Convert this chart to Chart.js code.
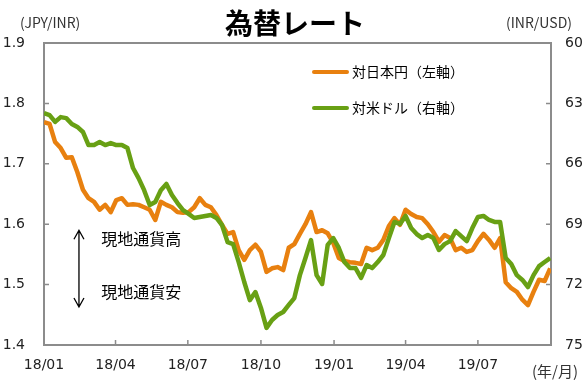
<!DOCTYPE html>
<html>
<head>
<meta charset="utf-8">
<script src="https://cdn.jsdelivr.net/npm/chart.js@4/dist/chart.umd.min.js"></script>
<style>
  html, body { margin: 0; padding: 0; background: #fff; }
  #wrap { width: 586px; height: 382px; position: relative; }
</style>
</head>
<body>
<div id="wrap"><canvas id="fx"></canvas></div>
<script>
(function () {
  "use strict";

  // 週次（2018/01/01 起点の経過日数）
  var days = [];
  for (var d = 0; d <= 637; d += 7) days.push(d);

  var monthTicks = [0, 90, 181, 273, 365, 455, 546];
  var monthLabels = ["18/01", "18/04", "18/07", "18/10", "19/01", "19/04", "19/07"];

  // 対日本円（JPY/INR, 左軸）
  var jpyInr = [1.769, 1.766, 1.736, 1.726, 1.710, 1.711, 1.686, 1.657, 1.643, 1.637,
    1.624, 1.632, 1.620, 1.640, 1.643, 1.632, 1.633, 1.632, 1.628, 1.624,
    1.607, 1.637, 1.632, 1.628, 1.620, 1.619, 1.620, 1.628, 1.643, 1.632,
    1.628, 1.615, 1.599, 1.584, 1.587, 1.557, 1.541, 1.557, 1.566, 1.554,
    1.521, 1.527, 1.529, 1.524, 1.561, 1.567, 1.584, 1.600, 1.620, 1.587,
    1.590, 1.585, 1.569, 1.544, 1.539, 1.537, 1.536, 1.534, 1.561, 1.557,
    1.561, 1.574, 1.597, 1.610, 1.599, 1.624, 1.617, 1.612, 1.610, 1.600,
    1.587, 1.571, 1.582, 1.577, 1.557, 1.561, 1.554, 1.557, 1.572, 1.584,
    1.574, 1.561, 1.577, 1.504, 1.494, 1.488, 1.475, 1.466, 1.488, 1.508,
    1.506, 1.527];

  // 対米ドル（INR/USD, 右軸・反転）
  var inrUsd = [63.48, 63.58, 63.92, 63.68, 63.73, 64.02, 64.17, 64.42, 65.07, 65.07,
    64.92, 65.07, 64.97, 65.07, 65.07, 65.22, 66.21, 66.71, 67.31, 68.05,
    67.90, 67.31, 67.00, 67.55, 67.95, 68.30, 68.49, 68.69, 68.64, 68.59,
    68.54, 68.69, 69.04, 69.89, 69.99, 70.88, 71.87, 72.77, 72.37, 73.16,
    74.15, 73.76, 73.51, 73.36, 73.01, 72.67, 71.53, 70.68, 69.79, 71.53,
    71.97, 70.03, 69.69, 70.18, 70.88, 71.18, 71.18, 71.67, 71.03, 71.18,
    70.88, 70.53, 69.69, 68.89, 68.99, 68.59, 69.19, 69.49, 69.69, 69.54,
    69.69, 70.28, 69.99, 69.84, 69.34, 69.59, 69.84, 69.19, 68.64, 68.59,
    68.79, 68.89, 68.89, 70.68, 70.98, 71.53, 71.77, 72.12, 71.53, 71.08,
    70.88, 70.68];

  var ORANGE = "#e8800f", GREEN = "#68a014", AXIS = "#8c8c8c";
  var JP = "'Noto Sans CJK JP', sans-serif";
  var NUM = "'DejaVu Sans', sans-serif";

  function pts(ys) { return ys.map(function (y, i) { return { x: days[i], y: y }; }); }

  // タイトル・凡例・注記・内向き目盛り
  var deco = {
    id: "deco",
    afterDraw: function (c) {
      var g = c.ctx, a = c.chartArea, sx = c.scales.x, sy = c.scales.y;
      g.save();
      g.strokeStyle = AXIS; g.lineWidth = 2;
      g.beginPath(); g.moveTo(a.left, a.top); g.lineTo(a.right, a.top); g.stroke();
      g.lineWidth = 1.5;
      g.beginPath();
      sy.ticks.forEach(function (t) { var y = sy.getPixelForValue(t.value); g.moveTo(a.left, y); g.lineTo(a.left + 5, y); });
      c.scales.y1.ticks.forEach(function (t) { var y = c.scales.y1.getPixelForValue(t.value); g.moveTo(a.right, y); g.lineTo(a.right - 5, y); });
      monthTicks.forEach(function (v) { var x = sx.getPixelForValue(v); g.moveTo(x, a.bottom); g.lineTo(x, a.bottom - 5); });
      g.stroke();

      g.fillStyle = "#000";
      g.font = "bold 28px " + JP; g.textAlign = "center"; g.textBaseline = "middle";
      g.fillText("為替レート", 295, 23);

      g.font = "14px " + JP; g.fillStyle = "#333";
      g.textAlign = "left"; g.fillText("(JPY/INR)", 20, 23);
      g.textAlign = "right"; g.fillText("(INR/USD)", 572, 23);
      g.font = "15px " + JP; g.fillText("(年/月)", 578, 371);

      // 凡例
      var items = [[c.data.datasets[0], 72], [c.data.datasets[1], 108]];
      g.textAlign = "left"; g.font = "14px " + JP; g.fillStyle = "#000";
      items.forEach(function (it) {
        g.strokeStyle = it[0].borderColor; g.lineWidth = 4; g.lineCap = "round";
        g.beginPath(); g.moveTo(314, it[1]); g.lineTo(347, it[1]); g.stroke();
        g.fillText(it[0].label, 352, it[1]);
      });

      // 現地通貨高／安
      var ax = sx.getPixelForValue(44), y1 = sy.getPixelForValue(1.59), y2 = sy.getPixelForValue(1.463);
      g.strokeStyle = "#000"; g.lineWidth = 1.3; g.lineCap = "butt";
      g.beginPath();
      g.moveTo(ax, y1); g.lineTo(ax, y2);
      g.moveTo(ax - 5, y1 + 9); g.lineTo(ax, y1); g.lineTo(ax + 5, y1 + 9);
      g.moveTo(ax - 5, y2 - 9); g.lineTo(ax, y2); g.lineTo(ax + 5, y2 - 9);
      g.stroke();
      g.font = "16px " + JP;
      g.fillText("現地通貨高", sx.getPixelForValue(72), sy.getPixelForValue(1.575));
      g.fillText("現地通貨安", sx.getPixelForValue(72), sy.getPixelForValue(1.488));
      g.restore();
    }
  };

  new Chart(document.getElementById("fx"), {
    type: "line",
    data: {
      datasets: [
        { label: "対日本円（左軸）", data: pts(jpyInr), borderColor: ORANGE, yAxisID: "y", order: 2 },
        { label: "対米ドル（右軸）", data: pts(inrUsd), borderColor: GREEN, yAxisID: "y1", order: 1 }
      ]
    },
    options: {
      responsive: true, maintainAspectRatio: false, animation: false,
      layout: { padding: { top: 43, left: 0, right: 0, bottom: 0 } },
      elements: { point: { radius: 0 }, line: { borderWidth: 4.5, tension: 0, borderJoinStyle: "round" } },
      plugins: { legend: { display: false }, tooltip: { enabled: false } },
      scales: {
        x: {
          type: "linear", min: 0, max: 638,
          afterBuildTicks: function (s) { s.ticks = monthTicks.map(function (v) { return { value: v }; }); },
          afterFit: function (s) { s.height = 37; },
          grid: { drawOnChartArea: false, drawTicks: false },
          border: { color: AXIS, width: 2 },
          ticks: {
            padding: 12, color: "#222", font: { family: NUM, size: 14 }, maxRotation: 0, autoSkip: false,
            callback: function (v) { var i = monthTicks.indexOf(v); return i < 0 ? "" : monthLabels[i]; }
          }
        },
        y: {
          position: "left", min: 1.4, max: 1.9,
          afterFit: function (s) { s.width = 44; },
          grid: { drawOnChartArea: false, drawTicks: false },
          border: { color: AXIS, width: 2 },
          ticks: { stepSize: 0.1, padding: 19, color: "#222", font: { family: NUM, size: 14 },
            callback: function (v) { return v.toFixed(1); } }
        },
        y1: {
          position: "right", min: 60, max: 75, reverse: true,
          afterFit: function (s) { s.width = 35; },
          grid: { drawOnChartArea: false, drawTicks: false },
          border: { color: AXIS, width: 2 },
          ticks: { stepSize: 3, padding: 14, color: "#222", font: { family: NUM, size: 14 } }
        }
      }
    },
    plugins: [deco]
  });
})();
</script>
</body>
</html>
